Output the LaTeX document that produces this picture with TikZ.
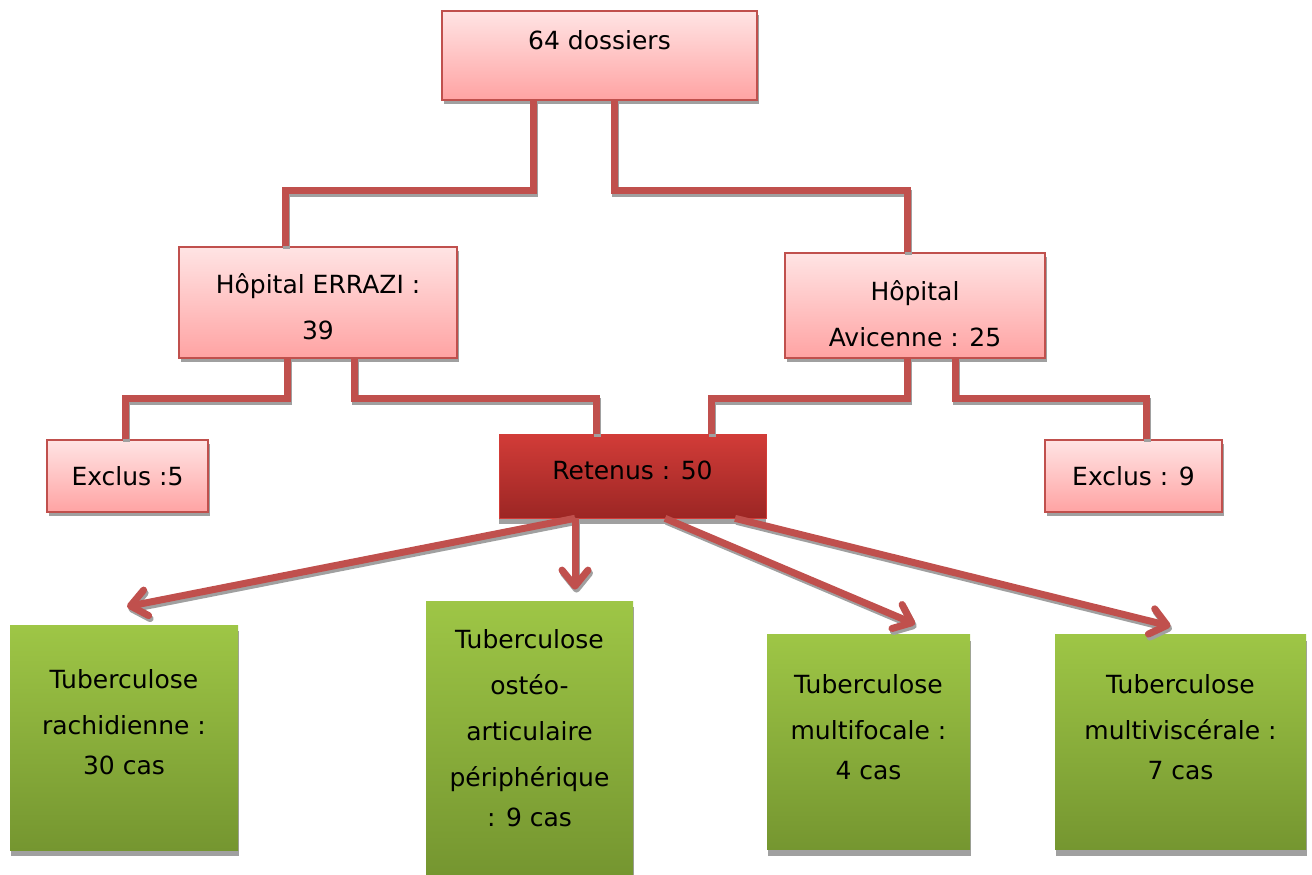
\documentclass[tikz,border=0pt]{standalone}
\usepackage{fontspec}
\setmainfont{DejaVu Sans}
\usepackage{tikz}
\usetikzlibrary{arrows.meta, shadows}
\definecolor{linkred}{RGB}{192,80,77}
\definecolor{pinktop}{RGB}{255,228,228}
\definecolor{pinkbot}{RGB}{255,163,163}
\definecolor{rettop}{RGB}{210,60,56}
\definecolor{retbot}{RGB}{156,38,36}
\definecolor{greentop}{RGB}{158,198,70}
\definecolor{greenbot}{RGB}{117,150,48}
\definecolor{shadowgray}{RGB}{160,160,160}

\begin{document}
\begin{tikzpicture}[x=0.5pt, y=-0.5pt,
    every node/.style={font=\fontsize{12.5}{23}\selectfont, align=center},
    pinkbox/.style={draw=linkred, line width=0.8pt, top color=pinktop, bottom color=pinkbot,
        drop shadow={shadow xshift=1pt, shadow yshift=-2pt, fill=shadowgray, opacity=1}},
    retbox/.style={draw=rettop, line width=0.3pt, top color=rettop, bottom color=retbot,
        drop shadow={shadow xshift=0pt, shadow yshift=-3pt, fill=shadowgray, opacity=1}},
    greenbox/.style={top color=greentop, bottom color=greenbot,
        drop shadow={shadow xshift=0.5pt, shadow yshift=-3pt, fill=shadowgray, opacity=1}},
    txt/.style={anchor=base, inner sep=0pt},
    link/.style={line width=3.5pt},
    arr/.style={link, -{Straight Barb[length=8pt, width=13pt, round]}}]
    \useasboundingbox (0,0) rectangle (1312,874);

    % Boxes
    \node[pinkbox, minimum width=157.5pt, minimum height=44.5pt] (top) at (599.5,55.5) {};
    \node[pinkbox, minimum width=139pt, minimum height=55.5pt] (errazi) at (318,302.5) {};
    \node[pinkbox, minimum width=130pt, minimum height=52.5pt] (avic) at (915,305.5) {};
    \node[pinkbox, minimum width=80.5pt, minimum height=36pt] (excl1) at (127.5,476) {};
    \node[retbox, minimum width=133.5pt, minimum height=42pt] (ret) at (632.5,476) {};
    \node[pinkbox, minimum width=88.5pt, minimum height=36pt] (excl2) at (1133.5,476) {};
    \node[greenbox, minimum width=114pt, minimum height=112.5pt] (rach) at (124,737.5) {};
    \node[greenbox, minimum width=103.5pt, minimum height=136.5pt] (osteo) at (529.5,737.5) {};
    \node[greenbox, minimum width=101.5pt, minimum height=107.5pt] (multif) at (868.5,742) {};
    \node[greenbox, minimum width=125.5pt, minimum height=107.5pt] (multiv) at (1180.5,742) {};

    % Texts (base = last line)
    \node[txt] (ttop) at (599.5,49) {64 dossiers};
    \node[txt] (terrazi) at (318,339) {Hôpital ERRAZI :\\39};
    \node[txt] (tavic) at (915,346) {Hôpital\\Avicenne : 25};
    \node[txt] (texcl1) at (127.5,485) {Exclus :5};
    \node[txt] (tret) at (632.5,479) {Retenus : 50};
    \node[txt] (texcl2) at (1133.5,485) {Exclus : 9};
    \node[txt] (trach) at (124,774) {Tuberculose\\rachidienne :\\[-3pt]30 cas};
    \node[txt] (tosteo) at (529.5,826) {Tuberculose\\ostéo-\\articulaire\\périphérique\\[-3pt]: 9 cas};
    \node[txt] (tmultif) at (868.5,779) {Tuberculose\\multifocale :\\[-3pt]4 cas};
    \node[txt] (tmultiv) at (1180.5,779) {Tuberculose\\multiviscérale :\\[-3pt]7 cas};

    % Links: shadow pass, then red pass
    \foreach \col/\s in {shadowgray/1, linkred/0} {
    \begin{scope}[draw=\col, transform canvas={shift={(1.5*\s,3*\s)}}]
    \draw[link] ([shift={(-66.5,0)}]top.south) -- ++(0,90) -| ([shift={(-33,0)}]errazi.north);
    \draw[link] ([shift={(14.5,0)}]top.south) -- ++(0,90) -| ([shift={(-8,0)}]avic.north);
    \draw[link] ([shift={(-31,0)}]errazi.south) -- ++(0,40) -| ([shift={(-2.5,0)}]excl1.north);
    \draw[link] ([shift={(36,0)}]errazi.south) -- ++(0,40) -| ([shift={(-36.5,0)}]ret.north);
    \draw[link] ([shift={(-8,0)}]avic.south) -- ++(0,40) -| ([shift={(78.5,0)}]ret.north);
    \draw[link] ([shift={(40,0)}]avic.south) -- ++(0,40) -| ([shift={(12.5,0)}]excl2.north);
    % Arrows
    \draw[arr] ([shift={(-57.5,0)}]ret.south) -- ([shift={(3,-18)}]rach.north);
    \draw[arr] ([shift={(-57.5,0)}]ret.south) -- ([shift={(45.5,-11)}]osteo.north);
    \draw[arr] ([shift={(32.5,0)}]ret.south) -- ([shift={(46.5,-10)}]multif.north);
    \draw[arr] ([shift={(102.5,0)}]ret.south) -- ([shift={(-10,-8)}]multiv.north);
    \end{scope}
    }
\end{tikzpicture}
\end{document}
